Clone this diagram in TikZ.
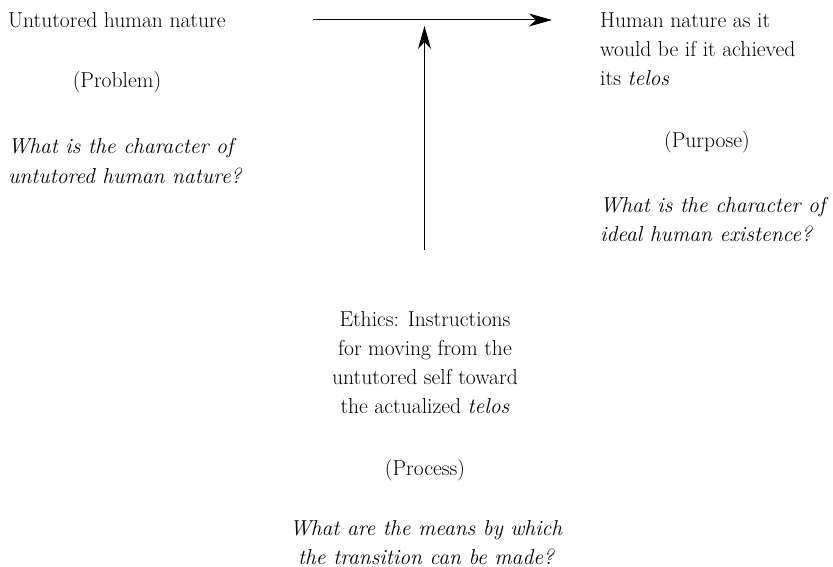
\documentclass[tikz,border=0pt]{standalone}
\usetikzlibrary{arrows.meta}
\tikzset{
  txt/.style={inner sep=0pt, font=\fontsize{21.6}{29}\selectfont},
  itxt/.style={inner sep=0pt, font=\fontsize{21.6}{29}\selectfont\itshape},
  arr/.style={line width=1pt, -{Stealth[length=23pt,width=13pt,inset=7pt]}}
}
\newcommand{\mylines}[2][l]{\begin{tabular}[t]{@{}#1@{}}#2\end{tabular}}
\begin{document}
\begin{tikzpicture}[x=1pt,y=-1pt]
\useasboundingbox (0,0) rectangle (833,567);
\node[txt, anchor=base west] (untut) at (8,28) {Untutored human nature};
\node[txt, anchor=base] (problem) at (117,88) {(Problem)};
\node[itxt, anchor=base west] (qleft) at (8,154) {\mylines{What is the character of\\untutored human nature?}};
\node[txt, anchor=base west] (ideal) at (600,28) {\mylines{Human nature as it\\would be if it achieved\\its \textit{telos}}};
\node[txt, anchor=base] (purpose) at (707,148) {(Purpose)};
\node[itxt, anchor=base west] (qright) at (600,212) {\mylines{What is the character of\\ideal human existence?}};
\node[txt, anchor=base] (ethics) at (425,326) {\mylines[c]{Ethics: Instructions\\for moving from the\\untutored self toward\\the actualized \textit{telos}}};
\node[txt, anchor=base] (process) at (425,475) {(Process)};
\node[itxt, anchor=base] (qbottom) at (426,535) {\mylines[c]{What are the means by which\\the transition can be made?}};
\coordinate (hs) at (313,20);
\coordinate (he) at (552,20);
\coordinate (vs) at (424.5,250);
\coordinate (ve) at (424.5,26);
\draw[arr] (hs) -- (he);
\draw[arr] (vs) -- (ve);
\end{tikzpicture}
\end{document}
